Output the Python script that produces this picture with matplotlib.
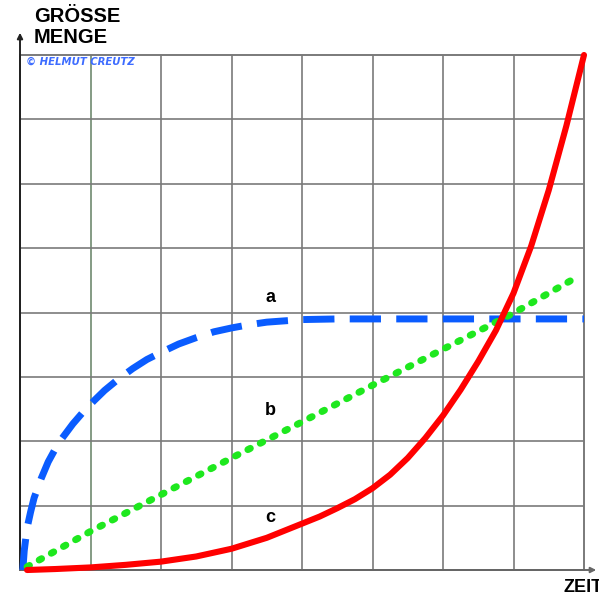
import matplotlib
matplotlib.use('Agg')
import matplotlib.pyplot as plt

# curve a: saturating growth (blue dashed)
a_x = [0.04, 0.06, 0.1, 0.15, 0.2, 0.3, 0.4, 0.5, 0.6, 0.75, 0.9, 1.05, 1.2, 1.4, 1.6, 1.8,
       2.0, 2.25, 2.5, 2.75, 3.0, 3.25, 3.5, 3.75, 4.0, 4.5, 5.0, 6.0, 7.0, 8.0]
a_y = [0, 0.3, 0.65, 0.9, 1.12, 1.42, 1.68, 1.88, 2.05, 2.27, 2.46, 2.63, 2.79, 2.97, 3.13, 3.27,
       3.38, 3.51, 3.61, 3.7, 3.76, 3.81, 3.85, 3.87, 3.89, 3.9, 3.9, 3.9, 3.9, 3.9]

# curve b: linear growth (green dotted)
b_x = [0.1, 1, 2, 3, 4, 5, 6, 7, 7.9]
b_y = [0.05, 0.6, 1.17, 1.74, 2.3, 2.87, 3.43, 3.99, 4.55]

# curve c: exponential growth (red)
c_x = [0.1, 0.5, 1.0, 1.5, 2.0, 2.5, 3.0, 3.5, 4.0, 4.25, 4.5, 4.75, 5.0, 5.25, 5.5, 5.75,
       6.0, 6.25, 6.5, 6.75, 7.0, 7.25, 7.5, 7.75, 8.0]
c_y = [0, 0.015, 0.04, 0.08, 0.13, 0.21, 0.33, 0.5, 0.72, 0.83, 0.96, 1.1, 1.27, 1.48, 1.74, 2.05,
       2.4, 2.8, 3.24, 3.72, 4.3, 5.03, 5.9, 6.9, 8.0]

W, H = 599, 598
fig = plt.figure(figsize=(W / 100, H / 100), dpi=100)
ax = fig.add_axes([20 / W, (H - 570) / H, (584 - 20) / W, (570 - 55) / H])
ax.set_xlim(0, 8)
ax.set_ylim(0, 8)

for i in range(1, 8):
    col = '#6f8a6f' if i == 1 else '#7a7a7a'
    ax.axvline(i, color=col, lw=1.2, zorder=1)
    ax.axhline(i, color='#7a7a7a', lw=1.2, zorder=1)

for s in ['top', 'right']:
    ax.spines[s].set_color('#7a7a7a')
    ax.spines[s].set_linewidth(1.4)
ax.spines['left'].set_color('#333333')
ax.spines['left'].set_linewidth(1.4)
ax.spines['bottom'].set_color('#666666')
ax.spines['bottom'].set_linewidth(1.4)
ax.set_xticks([])
ax.set_yticks([])

# axis arrows
ax.annotate('', xy=(20 / W, (H - 30) / H), xytext=(20 / W, (H - 570) / H),
            xycoords='figure fraction', textcoords='figure fraction',
            arrowprops=dict(arrowstyle='-|>', color='#222222', lw=1.4, mutation_scale=8))
ax.annotate('', xy=(1.0, (H - 570) / H), xytext=(20 / W, (H - 570) / H),
            xycoords='figure fraction', textcoords='figure fraction',
            arrowprops=dict(arrowstyle='-|>', color='#666666', lw=1.4, mutation_scale=8))

ax.plot(a_x, a_y, color='#0a5cff', lw=5.0, linestyle=(0, (4.5, 2.2)),
        solid_capstyle='butt', dash_capstyle='butt', clip_on=False, zorder=3)
ax.plot(b_x, b_y, color='#1ee81e', lw=5.0, linestyle=(0, (0.4, 1.6)),
        dash_capstyle='round', clip_on=False, zorder=4)
ax.plot(c_x, c_y, color='#ff0000', lw=4.4, solid_capstyle='round',
        clip_on=False, zorder=5)

font = 'Liberation Sans'
ax.text(3.55, 4.1, 'a', fontsize=13, fontweight='bold', family=font, ha='center', va='bottom')
ax.text(3.55, 2.35, 'b', fontsize=13, fontweight='bold', family=font, ha='center', va='bottom')
ax.text(3.55, 0.68, 'c', fontsize=13, fontweight='bold', family=font, ha='center', va='bottom')

fig.text(34 / W, (H - 7) / H, 'GRÖSSE\nMENGE', fontsize=14.5, fontweight='bold', family=font,
         ha='left', va='top', linespacing=1.12)
fig.text(26 / W, (H - 62) / H, '© HELMUT CREUTZ', fontsize=7.3, fontweight='bold',
         fontstyle='italic', family='DejaVu Sans', color='#3d6cff', ha='left', va='center')
fig.text(563 / W, (H - 588) / H, 'ZEIT', fontsize=13, fontweight='bold', family=font,
         ha='left', va='center')

fig.savefig('out.png', dpi=100)
